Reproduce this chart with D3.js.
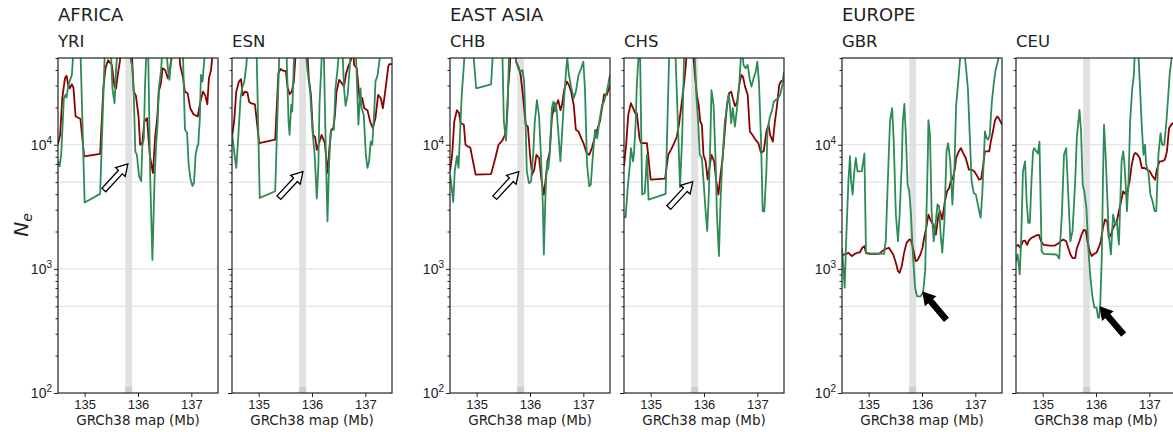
<!DOCTYPE html>
<html>
<head>
<meta charset="utf-8">
<script src="https://cdn.jsdelivr.net/npm/d3@7"></script>
<style>
  body { margin: 0; background: #fff; }
  svg { display: block; font-family: "DejaVu Sans", sans-serif; }
  .axis path.domain { display: none; }
  .axis line { stroke: #222; }
  .axis text { fill: #222; }
</style>
</head>
<body>
<div id="chart"></div>
<script>
// Groups and populations
var regions = ["AFRICA", "EAST ASIA", "EUROPE"];
var populations = [["YRI", "ESN"], ["CHB", "CHS"], ["GBR", "CEU"]];

// Ticks
var xTicks = [135, 136, 137];
var yMajorTicks = [100, 1000, 10000];
var yMinorTicks = [200, 300, 400, 500, 600, 700, 800, 900, 2000, 3000, 4000, 5000, 6000, 7000, 8000, 9000, 20000, 30000, 40000, 50000];
var gridValues = [500, 1000, 5000, 10000];

// Highlighted region (Mb)
var band = [135.76, 135.89];

// Series: [position Mb, Ne]; values above the axis top are clipped
var yriRed = [[134.50,10100],[134.54,12000],[134.58,23700],[134.63,34300],[134.66,36000],[134.69,30300],[134.72,28500],[134.76,30700],[134.79,28800],[134.83,16900],[134.92,16200],[134.99,8050],[135.29,8450],[135.35,28500],[135.39,41300],[135.44,48000],[135.51,43900],[135.56,29400],[135.59,28500],[135.62,36500],[135.66,46700],[135.68,60000],[135.88,60000],[135.92,26800],[135.96,25000],[136.01,16900],[136.04,10000],[136.08,10300],[136.12,15400],[136.17,16400],[136.22,8300],[136.28,5900],[136.32,11300],[136.36,16400],[136.39,26800],[136.43,31300],[136.46,41300],[136.51,40000],[136.56,34300],[136.59,38800],[136.63,49700],[136.64,60000],[136.77,60000],[136.79,43900],[136.84,35400],[136.88,26800],[136.93,26000],[136.98,19700],[137.04,17600],[137.12,16900],[137.17,22300],[137.22,26800],[137.26,25000],[137.30,21200],[137.33,34300],[137.37,40000],[137.39,49700],[137.41,60000],[137.50,60000]];
var yriGreen = [[134.50,7350],[134.53,6700],[134.56,8300],[134.61,23700],[134.64,25200],[134.66,24000],[134.69,29400],[134.72,32700],[134.76,36500],[134.78,49700],[134.79,60000],[134.92,60000],[135.00,3430],[135.29,4020],[135.38,60000],[135.49,60000],[135.52,28500],[135.56,21600],[135.59,41300],[135.62,60000],[135.84,60000],[135.87,46700],[135.89,43900],[135.92,26000],[135.95,8840],[135.98,8300],[136.02,5570],[136.06,5080],[136.08,9700],[136.11,11300],[136.13,28500],[136.16,60000],[136.19,60000],[136.23,5230],[136.27,1180],[136.31,5230],[136.34,10000],[136.37,15400],[136.39,28500],[136.43,38800],[136.46,60000],[136.53,60000],[136.56,41300],[136.59,33300],[136.62,49700],[136.63,60000],[136.84,60000],[136.88,13300],[136.92,12500],[136.95,6910],[136.98,5400],[137.02,4650],[137.05,4920],[137.08,8300],[137.11,9700],[137.13,10000],[137.16,16400],[137.18,36500],[137.21,32300],[137.23,41300],[137.26,60000],[137.50,60000]];

var esnRed = [[134.50,11500],[134.54,15400],[134.58,26800],[134.63,32300],[134.67,33800],[134.70,25000],[134.74,26800],[134.79,26300],[134.82,22300],[134.85,21600],[134.93,21200],[135.01,10300],[135.31,11000],[135.37,37600],[135.41,40800],[135.46,39400],[135.51,39400],[135.54,29400],[135.58,25500],[135.62,26800],[135.66,32300],[135.68,43900],[135.70,60000],[135.91,60000],[135.94,34300],[135.98,25200],[136.02,12000],[136.06,11500],[136.09,9100],[136.13,10300],[136.18,12000],[136.24,10300],[136.27,7600],[136.30,5900],[136.32,8800],[136.36,13200],[136.40,13600],[136.43,17400],[136.46,26800],[136.51,33300],[136.55,31700],[136.60,29400],[136.64,37600],[136.68,42600],[136.73,48000],[136.77,60000],[136.79,43900],[136.84,41300],[136.89,23700],[136.94,23900],[136.98,19700],[137.04,19000],[137.09,15400],[137.14,13600],[137.19,16400],[137.24,25200],[137.29,23700],[137.33,19700],[137.38,28500],[137.43,42600],[137.45,44600],[137.50,44600]];
var esnGreen = [[134.50,12400],[134.54,8840],[134.58,6500],[134.62,12000],[134.66,23700],[134.69,28500],[134.73,32300],[134.77,43900],[134.79,60000],[134.96,60000],[135.02,3730],[135.31,4220],[135.39,60000],[135.52,60000],[135.56,15400],[135.58,12000],[135.61,20900],[135.63,18500],[135.66,46700],[135.68,60000],[135.88,60000],[135.91,41300],[135.93,35400],[135.97,25200],[136.01,12800],[136.05,8300],[136.09,3690],[136.12,6910],[136.14,20900],[136.17,38800],[136.19,60000],[136.22,60000],[136.26,8300],[136.29,2420],[136.32,6910],[136.35,12800],[136.38,13200],[136.41,13200],[136.44,28500],[136.48,41300],[136.51,60000],[136.57,60000],[136.60,28500],[136.63,20600],[136.67,25200],[136.71,43900],[136.73,60000],[136.82,60000],[136.87,14500],[136.91,28500],[136.93,19700],[136.97,17400],[137.01,8300],[137.04,6500],[137.07,7350],[137.10,10600],[137.13,10000],[137.17,19700],[137.19,32300],[137.23,36500],[137.27,49700],[137.29,60000],[137.50,60000]];

var chbRed = [[134.50,6110],[134.54,8300],[134.58,15400],[134.63,19000],[134.67,18000],[134.70,14900],[134.76,14500],[134.79,10000],[134.83,9700],[134.88,9500],[134.98,5740],[135.27,5800],[135.35,7820],[135.41,10000],[135.48,10800],[135.53,12000],[135.56,14500],[135.59,28500],[135.62,41300],[135.64,60000],[135.71,60000],[135.74,46700],[135.78,42600],[135.82,37600],[135.86,26800],[135.89,19700],[135.92,14500],[135.96,14000],[136.00,8300],[136.04,5740],[136.08,6300],[136.12,8300],[136.17,7820],[136.21,5400],[136.26,3970],[136.29,5080],[136.33,7350],[136.37,8840],[136.41,16400],[136.46,21600],[136.49,20900],[136.53,22900],[136.57,19000],[136.60,20900],[136.64,27600],[136.69,32300],[136.73,30300],[136.77,26800],[136.82,20900],[136.86,13200],[136.91,12800],[136.96,11300],[137.01,10100],[137.06,8600],[137.11,8300],[137.16,9400],[137.21,11300],[137.26,13200],[137.31,15400],[137.36,20900],[137.39,25500],[137.44,25200],[137.50,30300]];
var chbGreen = [[134.50,5740],[134.53,4650],[134.56,3460],[134.59,6200],[134.63,8100],[134.66,6500],[134.69,12800],[134.72,25200],[134.76,43900],[134.78,60000],[134.93,60000],[134.99,28500],[135.27,30700],[135.31,60000],[135.48,60000],[135.51,15400],[135.55,10800],[135.58,19700],[135.61,60000],[135.69,60000],[135.74,46700],[135.78,41300],[135.82,38800],[135.86,40000],[135.89,32300],[135.92,13600],[135.94,6110],[135.98,4900],[136.02,5080],[136.06,8300],[136.09,15400],[136.13,22900],[136.17,16900],[136.21,7350],[136.24,3300],[136.26,1306],[136.29,3970],[136.32,7350],[136.34,6300],[136.37,8300],[136.41,19700],[136.44,22300],[136.47,18500],[136.49,21600],[136.53,12800],[136.57,7350],[136.61,14500],[136.64,23700],[136.68,41300],[136.70,49700],[136.73,36500],[136.77,29400],[136.82,23700],[136.86,26800],[136.91,36500],[136.96,41300],[137.00,46700],[137.03,28500],[137.07,6910],[137.11,4630],[137.14,4770],[137.18,8300],[137.22,13200],[137.26,11300],[137.30,15400],[137.35,20900],[137.39,22300],[137.44,26800],[137.50,36500]];

var chsRed = [[134.50,6700],[134.54,10000],[134.58,17400],[134.63,21600],[134.67,19700],[134.71,18000],[134.74,18000],[134.79,11300],[134.82,10300],[134.88,10300],[134.93,10300],[135.00,5230],[135.27,5330],[135.33,8300],[135.38,9100],[135.44,10300],[135.49,11600],[135.53,14500],[135.57,19700],[135.60,25200],[135.63,32300],[135.66,43900],[135.68,60000],[135.79,60000],[135.83,36500],[135.87,24500],[135.90,20900],[135.93,15400],[135.96,14500],[135.99,8300],[136.03,7350],[136.07,5230],[136.11,6910],[136.14,8300],[136.19,7350],[136.23,5080],[136.27,3970],[136.31,5740],[136.35,7820],[136.39,12800],[136.43,20900],[136.47,26000],[136.51,26800],[136.54,23700],[136.58,20500],[136.62,21900],[136.66,30300],[136.70,36500],[136.73,35400],[136.77,29400],[136.82,25200],[136.86,12800],[136.91,12000],[136.97,10900],[137.02,10300],[137.07,8600],[137.12,8900],[137.17,12800],[137.21,14500],[137.24,12000],[137.29,10600],[137.33,15400],[137.37,20900],[137.41,30300],[137.44,32300],[137.50,33300]];
var chsGreen = [[134.50,2650],[134.53,2600],[134.57,4490],[134.61,6910],[134.63,9400],[134.67,7350],[134.69,8840],[134.72,15400],[134.74,30300],[134.77,49700],[134.78,60000],[134.80,60000],[134.84,3970],[134.89,4090],[134.93,8310],[134.96,3620],[135.28,4020],[135.35,60000],[135.46,60000],[135.51,15400],[135.55,4550],[135.59,11300],[135.63,60000],[135.82,60000],[135.86,23700],[135.89,15400],[135.92,8300],[135.96,7820],[136.00,4490],[136.03,2915],[136.06,2020],[136.09,3970],[136.12,11300],[136.14,27600],[136.18,20900],[136.22,6910],[136.24,2915],[136.28,1270],[136.31,3510],[136.34,6910],[136.36,9400],[136.39,15400],[136.43,19700],[136.46,25200],[136.48,22300],[136.51,14900],[136.54,19700],[136.58,14000],[136.62,19700],[136.66,30300],[136.69,49700],[136.72,60000],[136.74,43900],[136.78,41300],[136.82,43900],[136.86,33300],[136.89,29400],[136.93,34300],[136.97,38800],[137.00,46700],[137.03,32300],[137.07,10600],[137.10,2915],[137.13,2900],[137.17,6110],[137.19,12800],[137.23,16400],[137.27,18500],[137.31,22300],[137.34,22900],[137.39,23700],[137.43,25500],[137.47,30300],[137.50,38800]];

var gbrRed = [[134.50,1270],[134.54,1306],[134.58,1320],[134.62,1350],[134.65,1306],[134.69,1270],[134.74,1320],[134.79,1350],[134.83,1350],[134.88,1480],[134.92,1520],[134.95,1340],[135.01,1320],[135.19,1320],[135.29,1430],[135.38,1480],[135.46,1306],[135.51,1120],[135.55,960],[135.58,930],[135.62,1050],[135.66,1320],[135.71,1620],[135.76,1720],[135.79,1720],[135.83,1480],[135.88,1155],[135.92,1180],[135.97,1306],[136.01,1480],[136.04,1780],[136.08,2140],[136.12,2740],[136.17,2420],[136.21,2290],[136.26,1890],[136.31,2740],[136.34,2915],[136.38,2500],[136.43,3510],[136.47,4220],[136.51,4490],[136.54,5080],[136.58,5400],[136.62,6500],[136.64,7820],[136.69,8840],[136.73,9400],[136.77,8600],[136.82,7820],[136.88,6300],[136.93,6300],[136.98,6110],[137.02,5740],[137.07,5230],[137.11,5330],[137.14,6500],[137.18,8840],[137.26,8840],[137.29,10600],[137.33,12800],[137.37,15800],[137.41,16900],[137.44,16400],[137.50,14500]];
var gbrGreen = [[134.50,1480],[134.53,960],[134.55,705],[134.58,1780],[134.62,5080],[134.65,8100],[134.67,5080],[134.70,3970],[134.73,6110],[134.76,7820],[134.79,6110],[134.82,6110],[134.87,6110],[134.92,8500],[134.95,1350],[135.01,1340],[135.29,1320],[135.32,1670],[135.37,6910],[135.40,15400],[135.44,19700],[135.47,10640],[135.51,2740],[135.55,1670],[135.58,2740],[135.62,6910],[135.64,15400],[135.67,21300],[135.70,11300],[135.73,4770],[135.76,4220],[135.79,2915],[135.83,1306],[135.87,705],[135.91,600],[135.97,600],[136.02,645],[136.06,960],[136.08,2420],[136.11,8310],[136.12,15800],[136.15,12000],[136.18,2915],[136.22,1670],[136.26,2420],[136.29,3300],[136.32,3200],[136.35,1890],[136.38,1350],[136.42,2420],[136.46,8840],[136.49,10300],[136.53,7350],[136.57,3300],[136.61,6910],[136.64,20900],[136.68,32300],[136.71,46700],[136.73,60000],[136.79,60000],[136.82,43900],[136.86,28500],[136.89,13600],[136.93,5080],[136.97,4090],[137.01,3970],[137.06,3100],[137.10,2580],[137.13,3970],[137.18,12800],[137.21,11300],[137.24,11000],[137.27,12000],[137.31,22300],[137.35,32300],[137.38,40000],[137.42,46700],[137.44,51000],[137.46,60000],[137.50,60000]];

var ceuRed = [[134.50,1520],[134.54,1560],[134.58,1480],[134.63,1670],[134.67,1690],[134.71,1560],[134.74,1690],[134.79,1780],[134.83,1810],[134.88,1860],[134.93,1880],[134.97,1670],[135.02,1560],[135.13,1540],[135.23,1540],[135.29,1600],[135.35,1690],[135.39,1720],[135.44,1670],[135.48,1480],[135.52,1306],[135.56,1220],[135.61,1220],[135.64,1460],[135.69,1670],[135.73,1890],[135.77,2060],[135.81,2030],[135.84,1670],[135.88,1390],[135.92,1270],[135.96,1320],[136.01,1350],[136.06,1520],[136.09,1670],[136.13,2140],[136.17,2500],[136.21,2420],[136.24,1780],[136.28,1890],[136.32,2140],[136.36,2290],[136.39,2420],[136.43,2915],[136.47,3510],[136.51,4220],[136.56,3970],[136.59,4220],[136.63,5080],[136.67,6910],[136.71,8310],[136.74,8600],[136.78,8310],[136.82,7820],[136.86,6500],[136.91,6500],[136.96,6300],[137.01,6110],[137.06,5570],[137.11,5230],[137.14,6300],[137.19,7350],[137.24,7350],[137.29,7580],[137.33,8840],[137.37,13600],[137.41,14500],[137.44,14900],[137.50,15400]];
var ceuGreen = [[134.50,1155],[134.53,1306],[134.57,902],[134.60,1890],[134.63,6110],[134.67,7350],[134.70,3510],[134.73,2350],[134.76,2350],[134.79,5080],[134.82,8840],[134.84,9400],[134.88,8840],[134.91,8500],[134.94,10600],[134.98,1390],[135.02,1320],[135.26,1306],[135.31,1210],[135.36,2740],[135.40,8310],[135.44,9400],[135.48,3970],[135.52,1670],[135.56,2020],[135.61,5080],[135.64,11310],[135.69,19100],[135.72,12800],[135.75,4770],[135.78,4220],[135.82,3100],[135.86,1390],[135.89,902],[135.93,605],[135.97,487],[136.01,487],[136.04,405],[136.06,405],[136.08,519],[136.11,1306],[136.13,5080],[136.15,14500],[136.18,8310],[136.21,3970],[136.24,1890],[136.28,1306],[136.32,2740],[136.36,2290],[136.39,2420],[136.43,1570],[136.46,3970],[136.48,7350],[136.51,8840],[136.53,7350],[136.56,4490],[136.58,2915],[136.61,5080],[136.64,15400],[136.68,28500],[136.71,36500],[136.73,60000],[136.79,60000],[136.82,32300],[136.86,13600],[136.89,8310],[136.92,10000],[136.94,6910],[136.98,6110],[137.02,3970],[137.06,3510],[137.10,2915],[137.13,2915],[137.17,8310],[137.21,12400],[137.24,10000],[137.28,10000],[137.32,15400],[137.36,26800],[137.38,36500],[137.41,46700],[137.43,60000],[137.50,60000]];

var redSeries = [[yriRed, esnRed], [chbRed, chsRed], [gbrRed, ceuRed]];
var greenSeries = [[yriGreen, esnGreen], [chbGreen, chsGreen], [gbrGreen, ceuGreen]];

// Arrow tips [Mb, Ne]; open arrows for Africa / East Asia, solid for Europe
var arrowTips = [[[135.81, 7000], [135.83, 6070]], [[135.79, 6070], [135.79, 5050]], [[136.02, 647], [136.08, 491]]];

// Layout
var width = 1173, height = 432;
var plotTop = 58, plotBottom = 393, panelWidth = 160;
var groupStep = 392, panelStep = 174, firstLeft = 58;

var redColor = "#8b0000", greenColor = "#2e8b57";

var svg = d3.select("#chart").append("svg")
  .attr("width", width)
  .attr("height", height);

svg.append("rect").attr("width", width).attr("height", height).attr("fill", "#fff");

var y = d3.scaleLog()
  .domain([100, 50000])
  .range([plotBottom, plotTop]);

// Y label
svg.append("text")
  .attr("transform", "translate(28," + 225 + ") rotate(-90)")
  .attr("text-anchor", "middle")
  .style("font-size", "20px")
  .style("font-style", "italic")
  .attr("fill", "#222")
  .call(function(t) {
    t.append("tspan").text("N");
    t.append("tspan").attr("dy", 4).style("font-size", "14px").text("e");
  });

regions.forEach(function(region, g) {
  var groupLeft = firstLeft + g * groupStep;

  // Region title
  svg.append("text")
    .attr("x", groupLeft)
    .attr("y", 21)
    .style("font-size", "18px")
    .attr("fill", "#222")
    .text(region);

  populations[g].forEach(function(pop, p) {
    var left = groupLeft + p * panelStep;
    var x = d3.scaleLinear()
      .domain([134.5, 137.5])
      .range([left, left + panelWidth]);

    var panel = svg.append("g").attr("class", "panel");
    var clipId = "clip-" + pop;

    panel.append("clipPath")
      .attr("id", clipId)
      .append("rect")
        .attr("x", left)
        .attr("y", plotTop)
        .attr("width", panelWidth)
        .attr("height", plotBottom - plotTop);

    // Population title
    panel.append("text")
      .attr("x", left)
      .attr("y", 47)
      .style("font-size", "16.5px")
      .attr("fill", "#222")
      .text(pop);

    // Grid
    panel.selectAll(".grid")
      .data(gridValues).enter()
      .append("line")
        .attr("class", "grid")
        .attr("x1", left)
        .attr("x2", left + panelWidth)
        .attr("y1", function(d) { return y(d); })
        .attr("y2", function(d) { return y(d); })
        .attr("stroke", "#dcdcdc")
        .attr("stroke-width", 1);

    // Highlight band
    panel.append("rect")
      .attr("x", x(band[0]))
      .attr("width", x(band[1]) - x(band[0]))
      .attr("y", plotTop)
      .attr("height", plotBottom - plotTop)
      .attr("fill", "#dcdcdc")
      .attr("opacity", 0.85);
    panel.append("rect")
      .attr("x", x(band[0]))
      .attr("width", x(band[1]) - x(band[0]))
      .attr("y", plotBottom - 6)
      .attr("height", 6)
      .attr("fill", "#cfcfcf");

    // Lines
    var line = d3.line()
      .x(function(d) { return x(d[0]); })
      .y(function(d) { return y(d[1]); });

    var lines = panel.append("g").attr("clip-path", "url(#" + clipId + ")");

    lines.append("path")
      .datum(redSeries[g][p])
      .attr("d", line)
      .attr("fill", "none")
      .attr("stroke", redColor)
      .attr("stroke-width", 1.8)
      .attr("stroke-linejoin", "round");

    lines.append("path")
      .datum(greenSeries[g][p])
      .attr("d", line)
      .attr("fill", "none")
      .attr("stroke", greenColor)
      .attr("stroke-width", 1.8)
      .attr("stroke-linejoin", "round");

    // Frame
    panel.append("rect")
      .attr("x", left)
      .attr("y", plotTop)
      .attr("width", panelWidth)
      .attr("height", plotBottom - plotTop)
      .attr("fill", "none")
      .attr("stroke", "#222")
      .attr("stroke-width", 1.2);

    // Y axis: minor ticks
    panel.append("g")
      .attr("class", "axis")
      .attr("transform", "translate(" + left + ",0)")
      .call(d3.axisLeft(y).tickValues(yMinorTicks).tickSize(2.5).tickFormat(""));

    // Y axis: major ticks, labels only on first panel of each region
    var yMajor = panel.append("g")
      .attr("class", "axis")
      .attr("transform", "translate(" + left + ",0)")
      .call(d3.axisLeft(y).tickValues(yMajorTicks).tickSize(4).tickPadding(2));

    yMajor.selectAll("text")
      .style("font-size", "14px")
      .each(function(d) {
        var t = d3.select(this);
        t.text("");
        if (p === 0) {
          t.append("tspan").text("10");
          t.append("tspan")
            .attr("dy", "-0.55em")
            .style("font-size", "10px")
            .text(Math.round(Math.log10(d)));
        }
      });

    // X axis
    var xAxis = panel.append("g")
      .attr("class", "axis")
      .attr("transform", "translate(0," + plotBottom + ")")
      .call(d3.axisBottom(x).tickValues(xTicks).tickSize(4).tickPadding(3).tickFormat(d3.format("d")));
    xAxis.selectAll("text").style("font-size", "13px");

    panel.append("text")
      .attr("x", left + panelWidth / 2)
      .attr("y", 425)
      .attr("text-anchor", "middle")
      .style("font-size", "13.5px")
      .attr("fill", "#222")
      .text("GRCh38 map (Mb)");

    // Arrow
    var tip = arrowTips[g][p];
    var solid = g === 2;
    var tx = x(tip[0]), ty = y(tip[1]);
    var ox = solid ? 23 : -24, oy = solid ? 27 : 26;
    var len = Math.sqrt(ox * ox + oy * oy);
    var angle = Math.atan2(-oy, -ox) * 180 / Math.PI;
    var hl = 11, hw = 6.5, sw = 2.6;
    var shape = [[0, 0], [-hl, hw], [-hl, sw], [-len, sw], [-len, -sw], [-hl, -sw], [-hl, -hw]];

    panel.append("polygon")
      .attr("points", shape.map(function(pt) { return pt.join(","); }).join(" "))
      .attr("transform", "translate(" + tx + "," + ty + ") rotate(" + angle + ")")
      .attr("fill", solid ? "#000" : "#fff")
      .attr("stroke", "#000")
      .attr("stroke-width", 1.3)
      .attr("stroke-linejoin", "miter");
  });
});
</script>
</body>
</html>
